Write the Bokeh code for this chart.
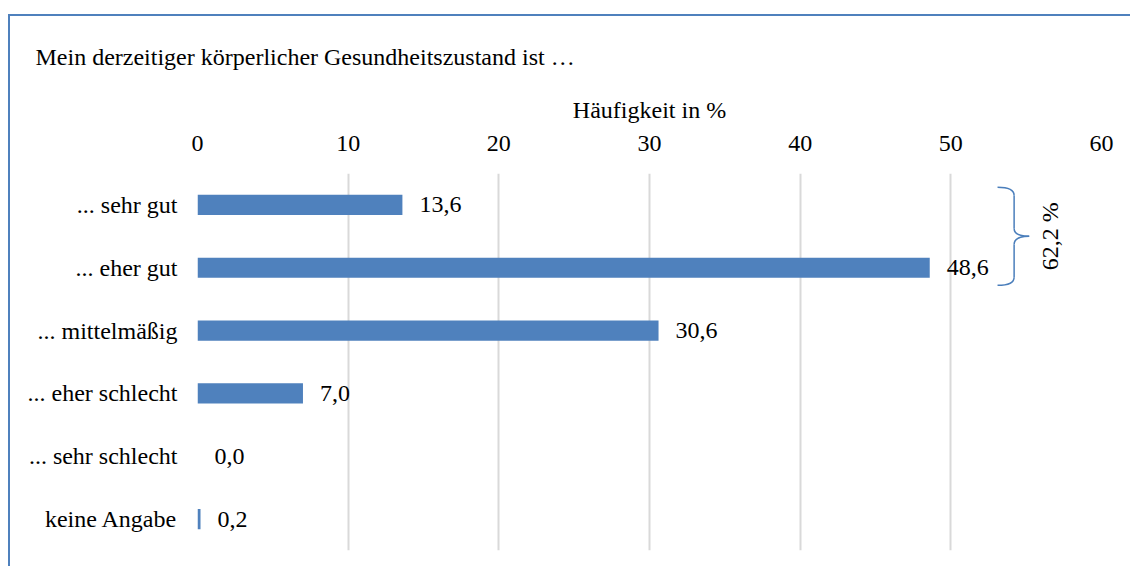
from bokeh.plotting import figure
from bokeh.models import ColumnDataSource, Range1d, FixedTicker
from bokeh.core.properties import value
from bokeh.embed import file_html
from bokeh.resources import INLINE
import math

title_text = "Mein derzeitiger körperlicher Gesundheitszustand ist …"
x_label = "Häufigkeit in %"
categories = ["... sehr gut", "... eher gut", "... mittelmäßig", "... eher schlecht", "... sehr schlecht", "keine Angabe"]
values = [13.6, 48.6, 30.6, 7.0, 0.0, 0.2]
x_ticks = [0, 10, 20, 30, 40, 50, 60]

FONT = "'Liberation Serif', 'Times New Roman', serif"
FS = "24px"
BLUE = "#4f81bd"

def de(v):
    return f"{v:.1f}".replace(".", ",")

n = len(categories)
ypos = [n - i - 0.5 for i in range(n)]

source = ColumnDataSource(dict(y=ypos, val=values, lab=[de(v) for v in values]))

p = figure(width=1122, height=552, output_backend="svg", toolbar_location=None,
           x_range=Range1d(0, 60), y_range=Range1d(0, n),
           x_axis_location="above",
           min_border_left=187, min_border_right=31, min_border_top=157, min_border_bottom=18,
           styles={"border-top": f"2px solid {BLUE}", "border-left": f"2px solid {BLUE}",
                   "margin-top": "14px", "margin-left": "8px"})
p.outline_line_color = None
p.background_fill_color = "white"
p.border_fill_color = "white"

p.title.text = title_text
p.title.align = "left"
p.title.offset = -162
p.title.text_font = FONT
p.title.text_font_size = FS
p.title.text_font_style = "normal"
p.title.text_color = "black"
p.title.standoff = 48

xa = p.xaxis[0]
xa.ticker = FixedTicker(ticks=x_ticks)
xa.axis_label = x_label
xa.axis_label_text_font = FONT
xa.axis_label_text_font_size = FS
xa.axis_label_text_font_style = "normal"
xa.axis_label_text_color = "black"
xa.axis_label_standoff = 10
xa.major_label_text_font = FONT
xa.major_label_text_font_size = FS
xa.major_label_text_color = "black"
xa.major_label_standoff = 23
xa.axis_line_color = None
xa.major_tick_line_color = None
xa.minor_tick_line_color = None
xa.major_tick_out = 0
xa.minor_tick_out = 0

ya = p.yaxis[0]
ya.ticker = FixedTicker(ticks=ypos)
ya.major_label_overrides = {y: c for y, c in zip(ypos, categories)}
ya.major_label_text_font = FONT
ya.major_label_text_font_size = FS
ya.major_label_text_color = "black"
ya.major_label_standoff = 20
ya.axis_line_color = None
ya.major_tick_line_color = None
ya.minor_tick_line_color = None
ya.major_tick_out = 0
ya.minor_tick_out = 0

p.xgrid.grid_line_color = "#d9d9d9"
p.xgrid.grid_line_width = 2
p.ygrid.grid_line_color = None

p.hbar(y="y", right="val", left=0, height=0.32, source=source, fill_color=BLUE, line_color=None)
p.text(x="val", y="y", text="lab", source=source, x_offset=17, text_baseline="middle",
       text_align="left", text_font=value(FONT), text_font_size=FS, text_color="black")

# brace grouping the first two categories
top = ypos[0] + 0.28
bot = ypos[1] - 0.28
mid = (top + bot) / 2
ry = 0.13
x0, x1, xt = 53.1, 54.2, 55.2
BR = "#4a7ebb"
p.quadratic(x0=[x0, x1, xt, x1], y0=[top, mid + ry, mid, bot + ry],
            x1=[x1, xt, x1, x0], y1=[top - ry, mid, mid - ry, bot],
            cx=[x1, x1, x1, x1], cy=[top, mid, mid, bot],
            line_color=BR, line_width=1.5)
p.segment(x0=[x1, x1], y0=[top - ry, mid - ry], x1=[x1, x1], y1=[mid + ry, bot + ry],
          line_color=BR, line_width=1.5)
p.text(x=[56.6], y=[mid], text=[de(values[0] + values[1]) + " %"], angle=math.pi / 2,
       text_align="center", text_baseline="middle", text_font=value(FONT), text_font_size=FS,
       text_color="black")

open("out.html", "w").write(file_html(p, INLINE))
